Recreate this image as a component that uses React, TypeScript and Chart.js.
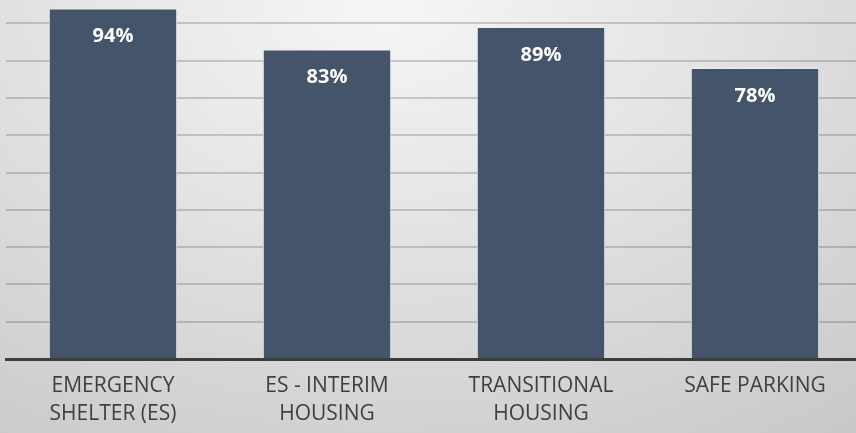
import React, { useEffect, useRef } from "react";
import { Chart, registerables } from "chart.js";

Chart.register(...registerables);

const categories: string[][] = [
  ["EMERGENCY", "SHELTER (ES)"],
  ["ES - INTERIM", "HOUSING"],
  ["TRANSITIONAL", "HOUSING"],
  ["SAFE PARKING"],
];
const values: number[] = [94, 83, 89, 78];
const valueLabels: string[] = ["94%", "83%", "89%", "78%"];

const barLabelPlugin = {
  id: "barLabels",
  afterDatasetsDraw(chart: any) {
    const meta = chart.getDatasetMeta(0);
    const ctx = chart.ctx;
    ctx.save();
    ctx.fillStyle = "#ffffff";
    ctx.font = "bold 20px 'Open Sans'";
    ctx.textAlign = "center";
    ctx.textBaseline = "middle";
    meta.data.forEach((bar: any, i: number) => {
      ctx.fillText(valueLabels[i], bar.x, bar.y + 28);
    });
    ctx.restore();
  },
};

export default function App() {
  const ref = useRef<HTMLCanvasElement | null>(null);
  useEffect(() => {
    if (!ref.current) return;
    const chart = new Chart(ref.current, {
      type: "bar",
      data: {
        labels: categories,
        datasets: [
          {
            data: values,
            backgroundColor: "#44546a",
            borderColor: "rgba(235,238,242,0.85)",
            borderWidth: 1,
            barPercentage: 0.6,
            categoryPercentage: 1,
          },
        ],
      },
      options: {
        animation: false,
        responsive: false,
        maintainAspectRatio: false,
        layout: { padding: { left: 6, right: 0, top: 0, bottom: 0 } },
        plugins: { legend: { display: false }, tooltip: { enabled: false } },
        scales: {
          x: {
            z: 1,
            grid: { display: false },
            border: { display: true, color: "#3d3d3d", width: 3 },
            ticks: {
              color: "#404040",
              padding: 5,
              maxRotation: 0,
              autoSkip: false,
              font: { family: "'Open Sans'", size: 21, lineHeight: 1.32 },
            },
            afterFit: (scale: any) => {
              scale.height = 74;
            },
          },
          y: {
            min: 0,
            max: 100,
            ticks: { display: false, stepSize: 10 },
            border: { display: false },
            grid: {
              drawTicks: false,
              color: "rgba(0,0,0,0.17)",
              lineWidth: 2,
            },
            afterFit: (scale: any) => {
              scale.width = 0;
            },
          },
        },
      },
      plugins: [barLabelPlugin],
    });
    return () => chart.destroy();
  }, []);

  return (
    <div
      style={{
        position: "fixed",
        left: 0,
        top: 0,
        width: 856,
        height: 433,
        overflow: "hidden",
        background:
          "radial-gradient(ellipse 95% 130% at 45% 0%, #f6f6f6 0%, #e4e4e4 40%, #c6c6c6 100%)",
      }}
    >
      <div style={{ position: "absolute", left: 0, top: -14, width: 862, height: 447 }}>
        <canvas ref={ref} width={862} height={447} style={{ display: "block" }} />
      </div>
    </div>
  );
}
